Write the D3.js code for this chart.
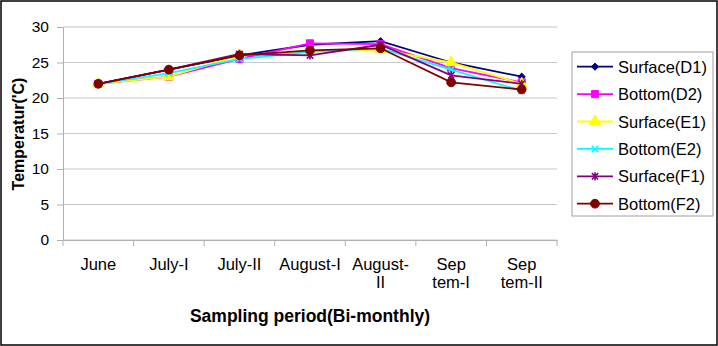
<!DOCTYPE html>
<html>
<head>
<meta charset="utf-8">
<script src="https://cdn.jsdelivr.net/npm/d3@7"></script>
<style>
  body { margin: 0; background: #fff; }
  svg { display: block; font-family: "Liberation Sans", Arial, sans-serif; }
</style>
</head>
<body>
<svg id="chart"></svg>
<script>
// categories and tick labels
const categories = ['June', 'July-I', 'July-II', 'August-I', 'August-II', 'Sep tem-I', 'Sep tem-II'];
const tickLabels = [['June'], ['July-I'], ['July-II'], ['August-I'], ['August-', 'II'], ['Sep', 'tem-I'], ['Sep', 'tem-II']];
const yTicks = [0, 5, 10, 15, 20, 25, 30];

// series values (temperature 'C)
const surfaceD1 = [22, 24, 26, 27.5, 28, 25, 23];
const bottomD2 = [22, 23, 25.5, 27.7, 27.6, 24.2, 22.2];
const surfaceE1 = [22, 23, 26, 26.5, 26.8, 25, 22];
const bottomE2 = [22, 23.5, 25.5, 26.5, 27, 24, 21];
const surfaceF1 = [22, 24, 26.2, 26, 27.5, 23.2, 22];
const bottomF2 = [22, 24, 26, 26.7, 27, 22.2, 21.2];

const seriesNames = ['Surface(D1)', 'Bottom(D2)', 'Surface(E1)', 'Bottom(E2)', 'Surface(F1)', 'Bottom(F2)'];
const seriesValues = [surfaceD1, bottomD2, surfaceE1, bottomE2, surfaceF1, bottomF2];

// excel style markers
const symTimes = {
    draw(ctx, size) {
        const r = Math.sqrt(size) / 2;
        ctx.moveTo(-r, -r); ctx.lineTo(r, r);
        ctx.moveTo(-r, r); ctx.lineTo(r, -r);
    }
};
const symStar = {
    draw(ctx, size) {
        const r = Math.sqrt(size) / 2;
        ctx.moveTo(-r, -r); ctx.lineTo(r, r);
        ctx.moveTo(-r, r); ctx.lineTo(r, -r);
        ctx.moveTo(0, -r * 1.3); ctx.lineTo(0, r * 1.3);
    }
};
const symDiamond = {
    draw(ctx, size) {
        const r = Math.sqrt(size) / 2 * 1.2;
        ctx.moveTo(0, -r); ctx.lineTo(r, 0);
        ctx.lineTo(0, r); ctx.lineTo(-r, 0);
        ctx.closePath();
    }
};

const styles = [
    {color: '#000080', symbol: symDiamond, size: 36, filled: true},
    {color: '#ff00ff', symbol: d3.symbolSquare, size: 50, filled: true},
    {color: '#ffff00', symbol: d3.symbolTriangle, size: 55, filled: true},
    {color: '#00ffff', symbol: symTimes, size: 40, filled: false},
    {color: '#800080', symbol: symStar, size: 40, filled: false},
    {color: '#800000', symbol: d3.symbolCircle, size: 60, filled: true}
];

class LineChart {
    constructor (config, data) {
        this.config = {
            parent: config.parent,
            width: config.width || 256,
            height: config.height || 256,
            margin: config.margin || {top:10, right:10, bottom:10, left:10},
            xlabel: config.xlabel || '',
            ylabel: config.ylabel || ''
        };
        this.data = data;
        this.init();
    }

    init() {
        let self = this;

        self.svg = d3.select(self.config.parent)
            .attr('width', self.config.width)
            .attr('height', self.config.height);

        // outer frame
        self.svg.append('rect')
            .attr('x', 1).attr('y', 1)
            .attr('width', self.config.width - 2)
            .attr('height', self.config.height - 2)
            .attr('fill', 'none')
            .attr('stroke', '#000')
            .attr('stroke-width', 1.5);

        self.chart = self.svg.append('g')
            .attr('transform', `translate(${self.config.margin.left}, ${self.config.margin.top})`);

        self.inner_width = self.config.width - self.config.margin.left - self.config.margin.right;
        self.inner_height = self.config.height - self.config.margin.top - self.config.margin.bottom;

        self.xscale = d3.scaleBand()
            .domain(categories)
            .range([0, self.inner_width]);

        self.yscale = d3.scaleLinear()
            .domain([0, 30])
            .range([self.inner_height, 0]);

        self.grid_group = self.chart.append('g');
        self.xaxis_group = self.chart.append('g')
            .attr('transform', `translate(0, ${self.inner_height})`);
        self.yaxis_group = self.chart.append('g');
        self.line_group = self.chart.append('g');

        self.svg.append('text')
            .style('font-size', '17.5px')
            .style('font-weight', 'bold')
            .attr('x', self.config.margin.left + self.inner_width / 2)
            .attr('y', 322)
            .attr('text-anchor', 'middle')
            .text(self.config.xlabel);

        self.svg.append('text')
            .style('font-size', '16px')
            .style('font-weight', 'bold')
            .attr('transform', `rotate(-90)`)
            .attr('y', 24)
            .attr('x', -134)
            .attr('text-anchor', 'middle')
            .text(self.config.ylabel);
    }

    update() {
        let self = this;

        self.line = d3.line()
            .x((d, i) => self.xscale(categories[i]) + self.xscale.bandwidth() / 2)
            .y(d => self.yscale(d));

        self.render();
    }

    render() {
        let self = this;

        // grid
        self.grid_group.selectAll('line')
            .data(yTicks)
            .join('line')
            .attr('x1', 0)
            .attr('x2', self.inner_width)
            .attr('y1', d => self.yscale(d))
            .attr('y2', d => self.yscale(d))
            .attr('stroke', '#c8c8c8')
            .attr('stroke-width', 1.2);

        const yaxis = d3.axisLeft(self.yscale)
            .tickValues(yTicks)
            .tickSize(6)
            .tickPadding(8);
        self.yaxis_group.call(yaxis);
        self.yaxis_group.selectAll('path, line').attr('stroke', '#b0b0b0');
        self.yaxis_group.selectAll('text')
            .style('font-size', '15.5px')
            .style('font-family', '"Liberation Sans", Arial, sans-serif')
            .attr('fill', '#000');

        // x axis: ticks at band edges, labels at centres
        const xaxis = d3.axisBottom(self.xscale).tickSize(0).tickFormat('');
        self.xaxis_group.call(xaxis);
        self.xaxis_group.select('.domain').attr('stroke', '#b0b0b0');
        self.xaxis_group.selectAll('.edge')
            .data(categories.concat(['end']))
            .join('line')
            .attr('class', 'edge')
            .attr('x1', (d, i) => i * self.xscale.step())
            .attr('x2', (d, i) => i * self.xscale.step())
            .attr('y1', 0)
            .attr('y2', 6)
            .attr('stroke', '#b0b0b0');

        const labels = self.xaxis_group.selectAll('.xlab')
            .data(tickLabels)
            .join('text')
            .attr('class', 'xlab')
            .attr('text-anchor', 'middle')
            .attr('fill', '#000')
            .style('font-size', '16.5px')
            .style('font-family', '"Liberation Sans", Arial, sans-serif')
            .attr('transform', (d, i) => `translate(${self.xscale(categories[i]) + self.xscale.bandwidth() / 2}, 30)`);
        labels.selectAll('tspan')
            .data(d => d)
            .join('tspan')
            .attr('x', 0)
            .attr('y', (d, i) => i * 18)
            .text(d => d);

        // lines + markers
        self.data.forEach((vals, k) => {
            const st = styles[k];
            self.line_group.append('path')
                .datum(vals)
                .attr('d', self.line)
                .attr('stroke', st.color)
                .attr('stroke-width', 1.8)
                .attr('fill', 'none');
            self.line_group.selectAll(`.m${k}`)
                .data(vals)
                .join('path')
                .attr('class', `m${k}`)
                .attr('transform', (d, i) => `translate(${self.xscale(categories[i]) + self.xscale.bandwidth() / 2}, ${self.yscale(d)})`)
                .attr('d', d3.symbol().type(st.symbol).size(st.size))
                .attr('fill', st.filled ? st.color : 'none')
                .attr('stroke', st.color)
                .attr('stroke-width', st.filled ? 1 : 1.6);
        });

        // legend
        const legend = self.svg.append('g').attr('transform', 'translate(572, 52)');
        legend.append('rect')
            .attr('width', 141).attr('height', 164)
            .attr('fill', '#fff')
            .attr('stroke', '#a0a0a0');
        const items = legend.selectAll('.item')
            .data(seriesNames)
            .join('g')
            .attr('class', 'item')
            .attr('transform', (d, i) => `translate(0, ${14.7 + i * 27.4})`);
        items.append('line')
            .attr('x1', 5).attr('x2', 41)
            .attr('stroke', (d, i) => styles[i].color)
            .attr('stroke-width', 1.8);
        items.append('path')
            .attr('transform', 'translate(23, 0)')
            .attr('d', (d, i) => d3.symbol().type(styles[i].symbol).size(styles[i].size)())
            .attr('fill', (d, i) => styles[i].filled ? styles[i].color : 'none')
            .attr('stroke', (d, i) => styles[i].color)
            .attr('stroke-width', (d, i) => styles[i].filled ? 1 : 1.6);
        items.append('text')
            .attr('x', 46)
            .attr('y', 6)
            .style('font-size', '16.5px')
            .text(d => d);
    }
}

let chart = new LineChart({
    parent: '#chart',
    width: 718,
    height: 346,
    margin: {top: 27, right: 161, bottom: 106, left: 63},
    xlabel: 'Sampling period(Bi-monthly)',
    ylabel: "Temperatur('C)"
}, seriesValues);
chart.update();
</script>
</body>
</html>
